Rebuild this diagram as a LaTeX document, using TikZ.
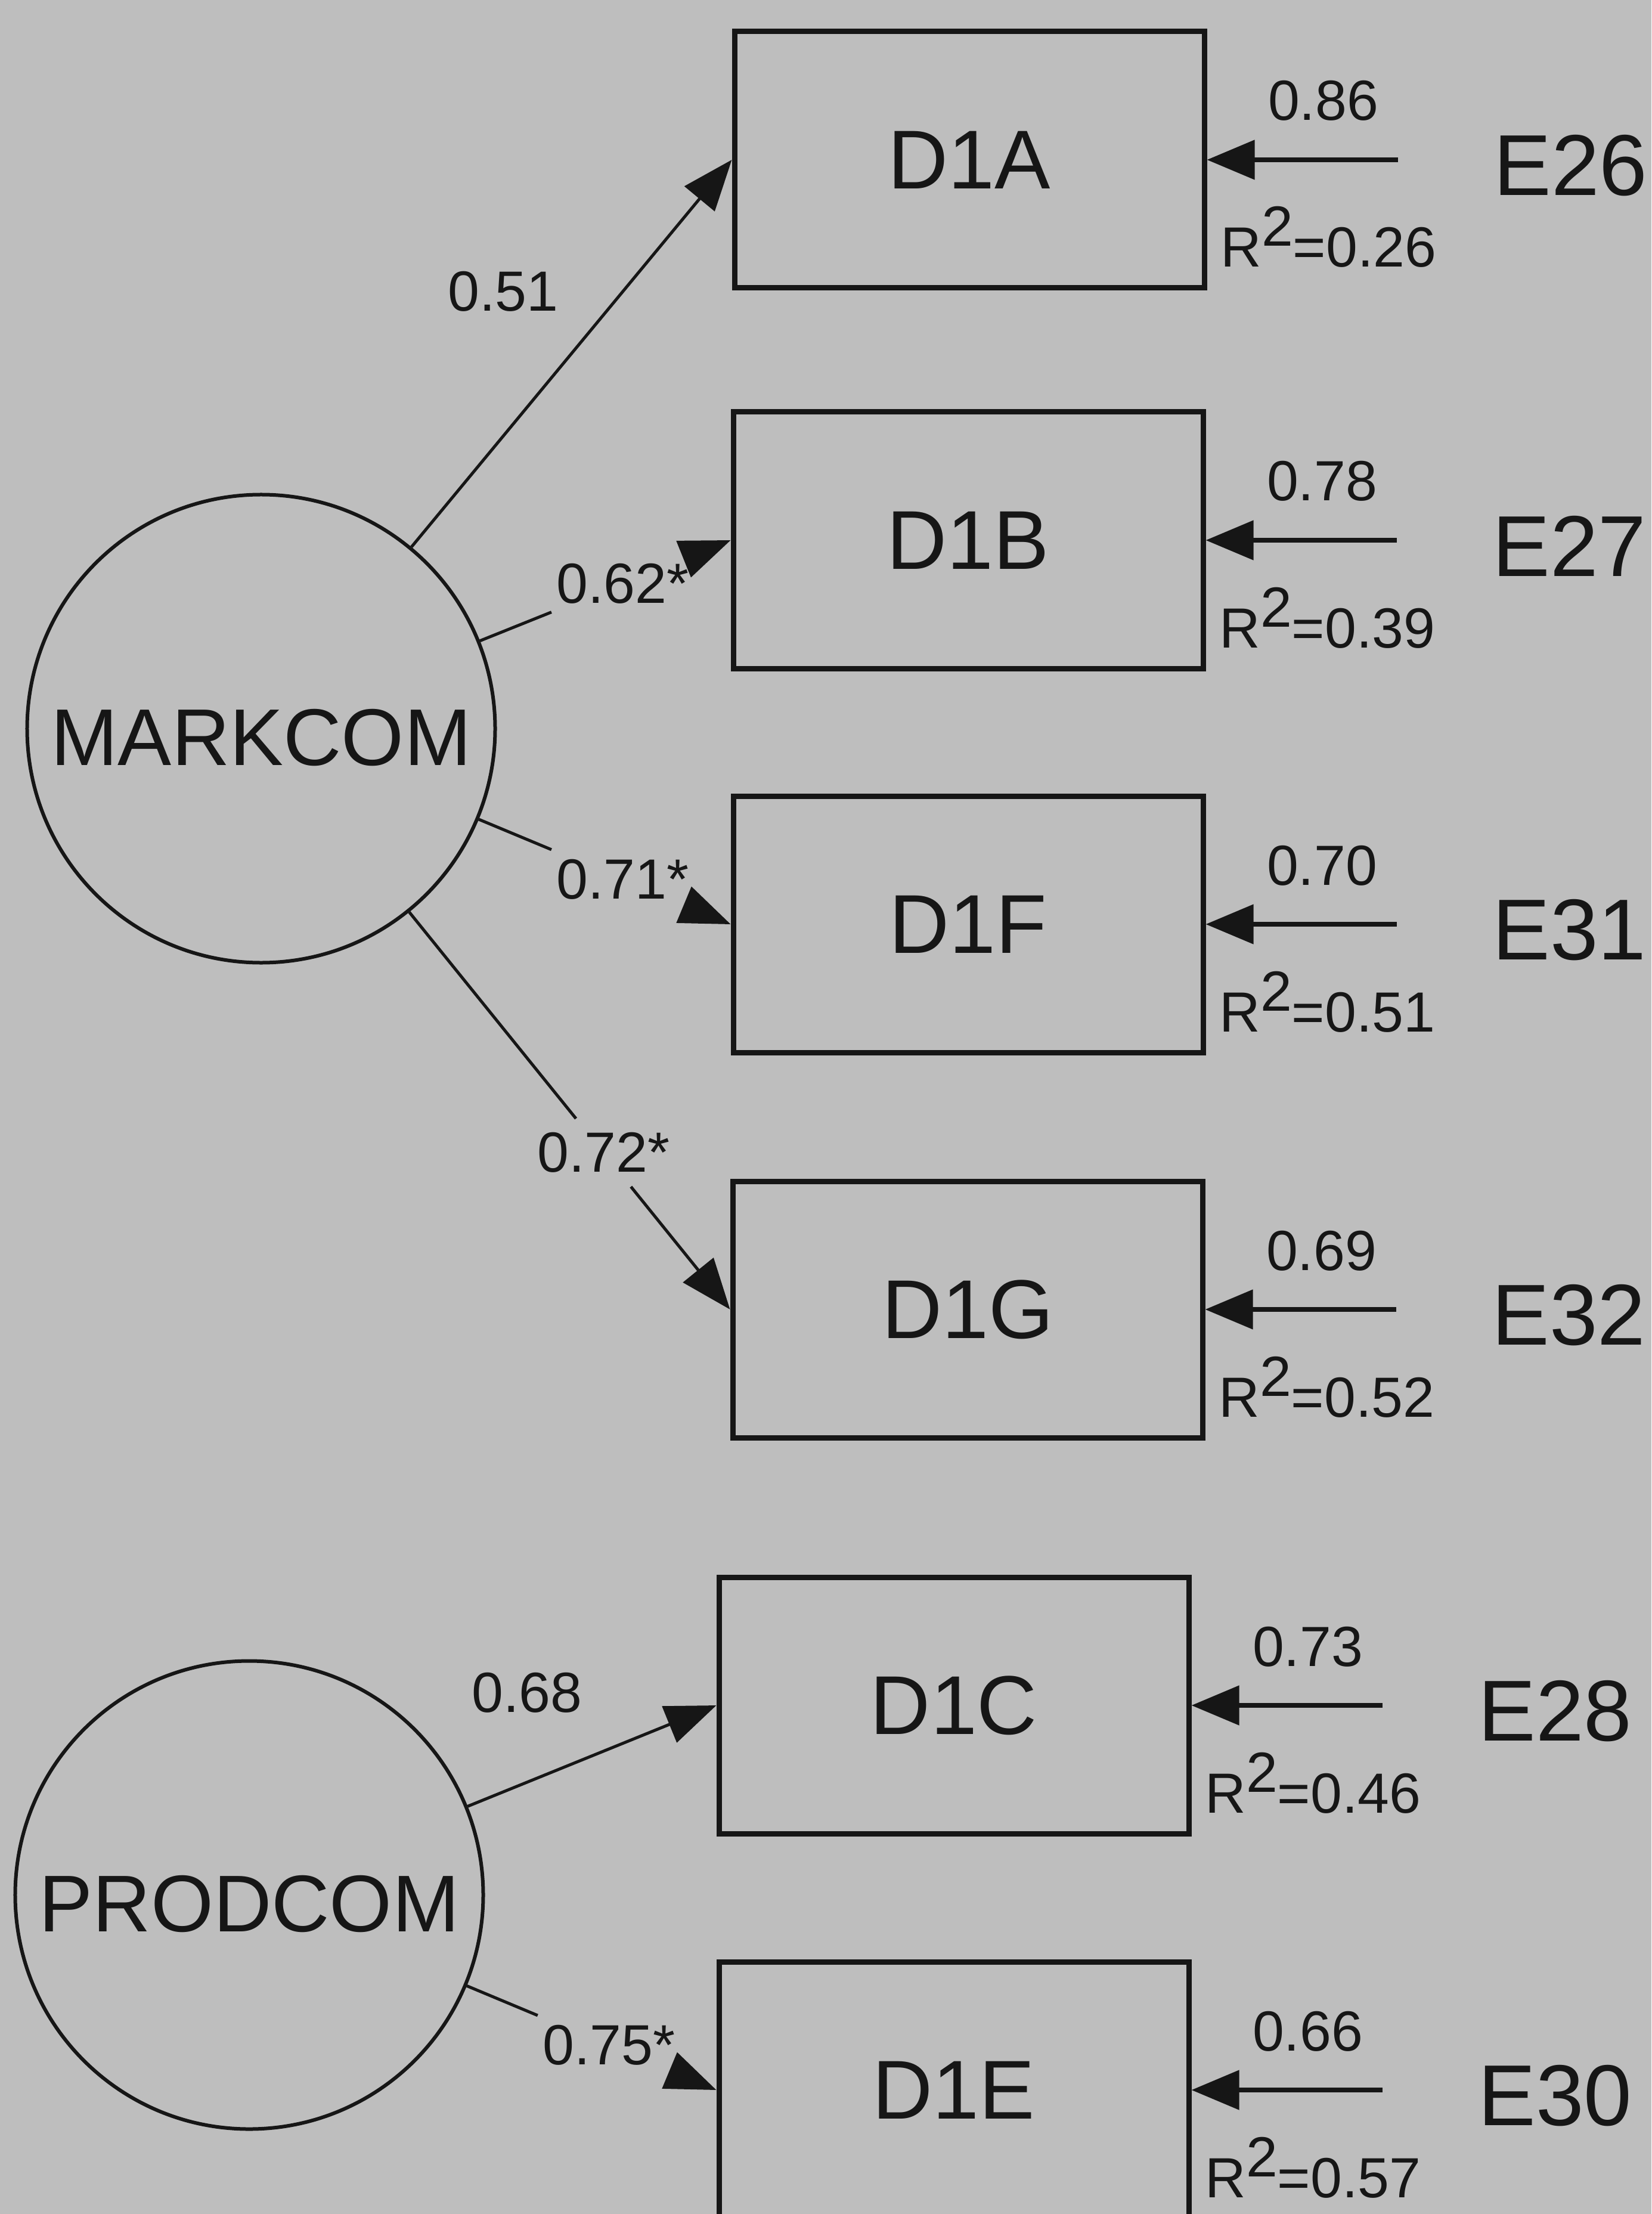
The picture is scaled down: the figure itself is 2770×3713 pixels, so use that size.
\documentclass[tikz,border=0pt]{standalone}
\usepackage{fontspec}
\setmainfont{Liberation Sans}
\usetikzlibrary{arrows.meta,calc}
\definecolor{bg}{RGB}{190,190,190}
\definecolor{ink}{RGB}{22,22,22}
\begin{document}
\begin{tikzpicture}[x=0.2pt,y=-0.2pt,
  obsbox/.style={draw=ink, line width=1.8pt, minimum width=157.6pt, minimum height=86pt, inner sep=0pt, font=\fontsize{28}{30}\selectfont, text=ink},
  latent/.style={circle, draw=ink, line width=1.2pt, minimum size=157pt, inner sep=0pt, font=\fontsize{27}{29}\selectfont, text=ink, text height=25pt},
  loadline/.style={draw=ink, line width=1pt},
  loadarrow/.style={loadline, -{Triangle[length=17pt,width=13pt]}},
  errarrow/.style={draw=ink, line width=1.6pt, -{Triangle[length=16pt,width=13pt]}},
  numlbl/.style={font=\fontsize{19}{21}\selectfont, text=ink, inner sep=0pt},
  onlbl/.style={numlbl, inner xsep=1.5pt, inner ysep=4.5pt},
  errname/.style={font=\fontsize{29}{31}\selectfont, text=ink, inner sep=0pt}
]
\fill[bg] (0,0) rectangle (2770,3713);
\useasboundingbox (0,0) rectangle (2770,3713);
\clip (0,0) rectangle (2770,3713);

% observed variables
\node[obsbox] (d1a) at (1626,268) {D1A};
\node[obsbox] (d1b) at (1624,906) {D1B};
\node[obsbox] (d1f) at (1624,1550) {D1F};
\node[obsbox] (d1g) at (1623,2196) {D1G};
\node[obsbox] (d1c) at (1600,2860) {D1C};
\node[obsbox] (d1e) at (1600,3505) {D1E};

% latent variables
\node[latent] (markcom) at (438,1222) {MARKCOM};
\node[latent] (prodcom) at (418,3178) {PRODCOM};

% loading labels
\node[numlbl] (l51) at (844,489) {0.51};
\node[onlbl] (l62) at ($(markcom.center)!0.77!(d1b.west)$) {0.62*};
\node[onlbl] (l71) at ($(markcom.center)!0.77!(d1f.west)$) {0.71*};
\node[onlbl] (l72) at ($(markcom.center)!0.73!(d1g.west)$) {0.72*};
\node[numlbl] (l68) at (884,2839) {0.68};
\node[onlbl] (l75) at ($(prodcom.center)!0.77!(d1e.west)$) {0.75*};

% loadings
\draw[loadarrow] (markcom) -- (d1a.west);
\draw[loadline] (markcom) -- (l62);
\draw[loadarrow] (l62) -- (d1b.west);
\draw[loadline] (markcom) -- (l71);
\draw[loadarrow] (l71) -- (d1f.west);
\draw[loadline] (markcom) -- (l72);
\draw[loadarrow] (l72) -- (d1g.west);
\draw[loadarrow] (prodcom) -- (d1c.west);
\draw[loadline] (prodcom) -- (l75);
\draw[loadarrow] (l75) -- (d1e.west);

% error terms
\foreach \b/\e/\v/\r in {d1a/E26/0.86/0.26, d1b/E27/0.78/0.39, d1f/E31/0.70/0.51, d1g/E32/0.69/0.52, d1c/E28/0.73/0.46, d1e/E30/0.66/0.57}{
  \coordinate (\b-src) at ([xshift=64pt]\b.east);
  \draw[errarrow] (\b-src) -- (\b.east);
  \node[numlbl, anchor=base] (\b-v) at ([xshift=39pt,yshift=13.2pt]\b.east) {\v};
  \node[numlbl, anchor=base west] (\b-r) at ([xshift=4.4pt,yshift=-36pt]\b.east) {R\raisebox{7pt}{2}=\r};
  \node[errname] (\e) at ([xshift=122pt,yshift=-2pt]\b.east) {\e};
}
\end{tikzpicture}
\end{document}
